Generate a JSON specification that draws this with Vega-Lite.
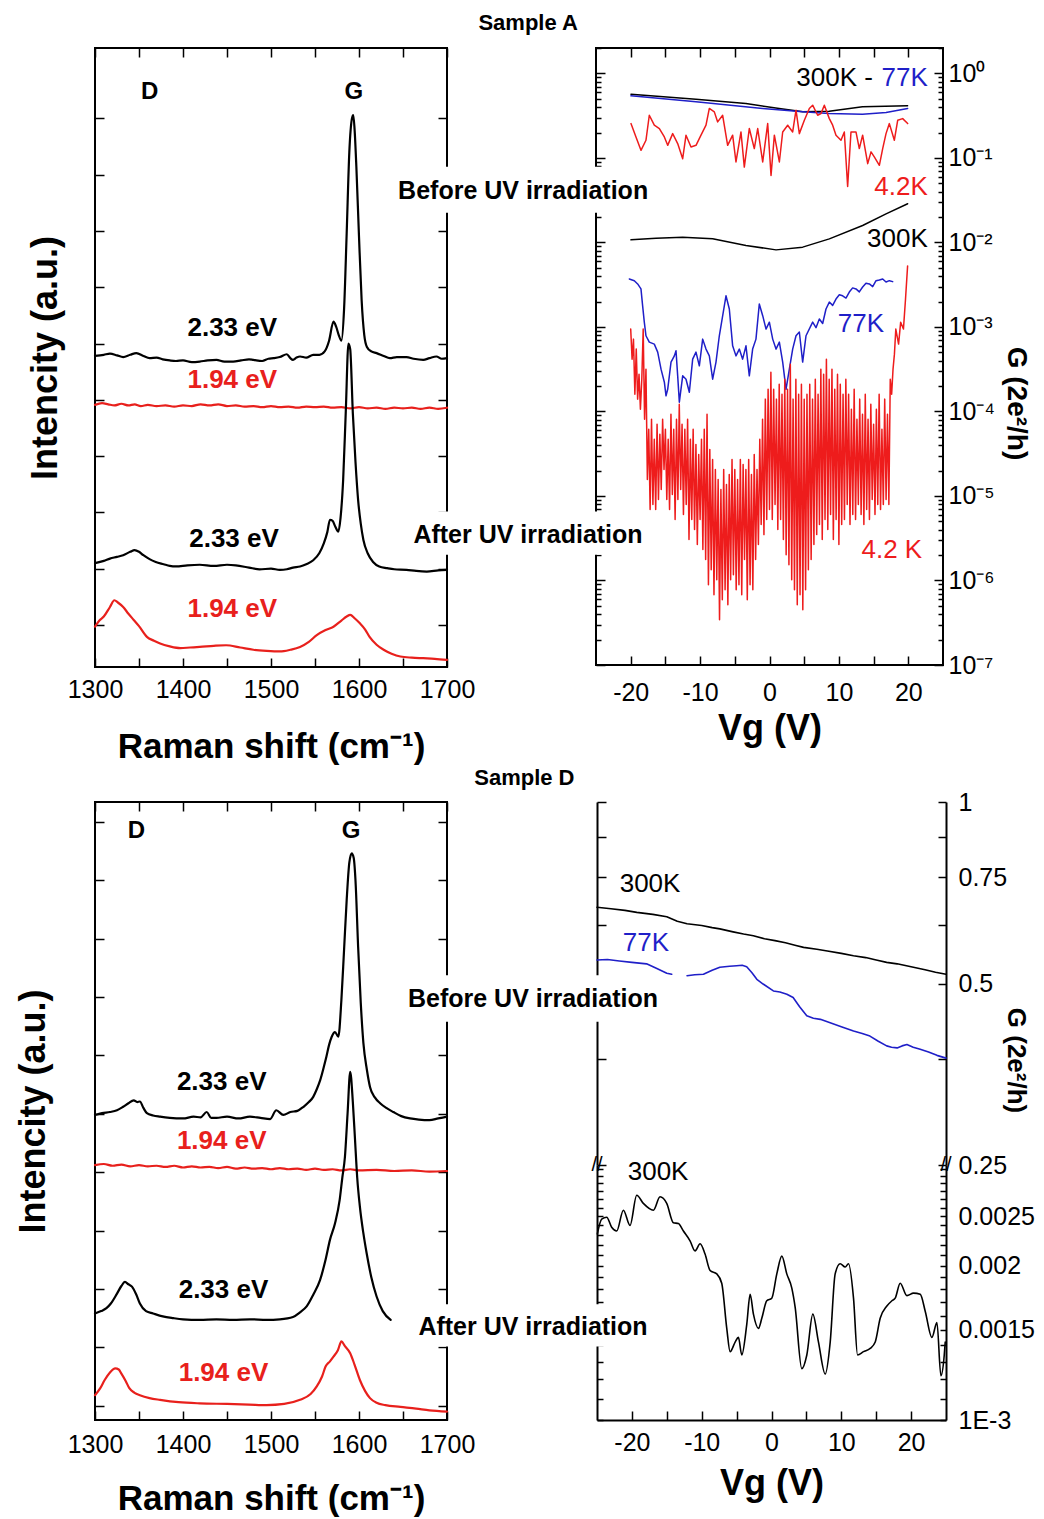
{
"$schema": "https://vega.github.io/schema/vega-lite/v6.json",
"autosize": {"type": "pad"},
"padding": {"left": 14, "top": 12, "right": 5, "bottom": 3},
"background": "white",
"spacing": 2,
"resolve": {"scale": {"color": "independent"}},
"config": {
  "font": "Liberation Sans",
  "view": {"stroke": "#000", "strokeWidth": 2},
  "axis": {"domain": false, "grid": false, "zindex": 0, "tickColor": "#000", "tickWidth": 1.5, "labelFont": "Liberation Sans", "labelFontSize": 25, "labelColor": "#000", "labelOverlap": false, "labelFlush": false, "titleFont": "Liberation Sans", "titleFontWeight": "bold", "titleColor": "#000", "domainColor": "#000", "domainWidth": 2},
  "line": {"strokeJoin": "round", "strokeCap": "round"}
},
"datasets": {
  "ramanA": [
    {"x":1300,"y":4.78,"E":"2.33 eV","s":"b"},{"x":1310,"y":4.8,"E":"2.33 eV","s":"b"},{"x":1317,"y":4.82,"E":"2.33 eV","s":"b"},{"x":1325,"y":4.79,"E":"2.33 eV","s":"b"},{"x":1332,"y":4.76,"E":"2.33 eV","s":"b"},{"x":1340,"y":4.8,"E":"2.33 eV","s":"b"},{"x":1347,"y":4.83,"E":"2.33 eV","s":"b"},{"x":1355,"y":4.78,"E":"2.33 eV","s":"b"},{"x":1362,"y":4.74,"E":"2.33 eV","s":"b"},{"x":1370,"y":4.75,"E":"2.33 eV","s":"b"},{"x":1377,"y":4.72,"E":"2.33 eV","s":"b"},{"x":1385,"y":4.7,"E":"2.33 eV","s":"b"},{"x":1392,"y":4.69,"E":"2.33 eV","s":"b"},{"x":1400,"y":4.7,"E":"2.33 eV","s":"b"},{"x":1410,"y":4.67,"E":"2.33 eV","s":"b"},{"x":1419,"y":4.68,"E":"2.33 eV","s":"b"},{"x":1428,"y":4.7,"E":"2.33 eV","s":"b"},{"x":1438,"y":4.71,"E":"2.33 eV","s":"b"},{"x":1447,"y":4.68,"E":"2.33 eV","s":"b"},{"x":1457,"y":4.68,"E":"2.33 eV","s":"b"},{"x":1466,"y":4.7,"E":"2.33 eV","s":"b"},{"x":1475,"y":4.72,"E":"2.33 eV","s":"b"},{"x":1480,"y":4.71,"E":"2.33 eV","s":"b"},{"x":1490,"y":4.69,"E":"2.33 eV","s":"b"},{"x":1497,"y":4.73,"E":"2.33 eV","s":"b"},{"x":1503,"y":4.74,"E":"2.33 eV","s":"b"},{"x":1510,"y":4.76,"E":"2.33 eV","s":"b"},{"x":1518,"y":4.81,"E":"2.33 eV","s":"b"},{"x":1522,"y":4.74,"E":"2.33 eV","s":"b"},{"x":1525,"y":4.71,"E":"2.33 eV","s":"b"},{"x":1529,"y":4.75,"E":"2.33 eV","s":"b"},{"x":1533,"y":4.77,"E":"2.33 eV","s":"b"},{"x":1540,"y":4.75,"E":"2.33 eV","s":"b"},{"x":1548,"y":4.8,"E":"2.33 eV","s":"b"},{"x":1555,"y":4.8,"E":"2.33 eV","s":"b"},{"x":1561,"y":4.86,"E":"2.33 eV","s":"b"},{"x":1566,"y":5.05,"E":"2.33 eV","s":"b"},{"x":1571,"y":5.39,"E":"2.33 eV","s":"b"},{"x":1574,"y":5.3,"E":"2.33 eV","s":"b"},{"x":1577,"y":5.15,"E":"2.33 eV","s":"b"},{"x":1580,"y":5.05,"E":"2.33 eV","s":"b"},{"x":1583,"y":5.6,"E":"2.33 eV","s":"b"},{"x":1586,"y":6.96,"E":"2.33 eV","s":"b"},{"x":1589,"y":8.4,"E":"2.33 eV","s":"b"},{"x":1592,"y":9.0,"E":"2.33 eV","s":"b"},{"x":1593.5,"y":9.06,"E":"2.33 eV","s":"b"},{"x":1595,"y":8.8,"E":"2.33 eV","s":"b"},{"x":1597,"y":8.14,"E":"2.33 eV","s":"b"},{"x":1600,"y":6.9,"E":"2.33 eV","s":"b"},{"x":1603,"y":5.77,"E":"2.33 eV","s":"b"},{"x":1606,"y":5.15,"E":"2.33 eV","s":"b"},{"x":1609,"y":4.94,"E":"2.33 eV","s":"b"},{"x":1614,"y":4.86,"E":"2.33 eV","s":"b"},{"x":1620,"y":4.83,"E":"2.33 eV","s":"b"},{"x":1628,"y":4.78,"E":"2.33 eV","s":"b"},{"x":1635,"y":4.74,"E":"2.33 eV","s":"b"},{"x":1643,"y":4.76,"E":"2.33 eV","s":"b"},{"x":1654,"y":4.76,"E":"2.33 eV","s":"b"},{"x":1662,"y":4.73,"E":"2.33 eV","s":"b"},{"x":1673,"y":4.71,"E":"2.33 eV","s":"b"},{"x":1680,"y":4.74,"E":"2.33 eV","s":"b"},{"x":1688,"y":4.77,"E":"2.33 eV","s":"b"},{"x":1694,"y":4.73,"E":"2.33 eV","s":"b"},{"x":1700,"y":4.74,"E":"2.33 eV","s":"b"},
    {"x":1300,"y":3.91,"E":"1.94 eV","s":"b"},{"x":1308,"y":3.94,"E":"1.94 eV","s":"b"},{"x":1315,"y":3.92,"E":"1.94 eV","s":"b"},{"x":1322,"y":3.9,"E":"1.94 eV","s":"b"},{"x":1330,"y":3.93,"E":"1.94 eV","s":"b"},{"x":1338,"y":3.9,"E":"1.94 eV","s":"b"},{"x":1345,"y":3.92,"E":"1.94 eV","s":"b"},{"x":1352,"y":3.89,"E":"1.94 eV","s":"b"},{"x":1360,"y":3.91,"E":"1.94 eV","s":"b"},{"x":1370,"y":3.89,"E":"1.94 eV","s":"b"},{"x":1380,"y":3.9,"E":"1.94 eV","s":"b"},{"x":1390,"y":3.88,"E":"1.94 eV","s":"b"},{"x":1400,"y":3.9,"E":"1.94 eV","s":"b"},{"x":1410,"y":3.89,"E":"1.94 eV","s":"b"},{"x":1420,"y":3.92,"E":"1.94 eV","s":"b"},{"x":1430,"y":3.9,"E":"1.94 eV","s":"b"},{"x":1440,"y":3.92,"E":"1.94 eV","s":"b"},{"x":1450,"y":3.89,"E":"1.94 eV","s":"b"},{"x":1460,"y":3.9,"E":"1.94 eV","s":"b"},{"x":1470,"y":3.88,"E":"1.94 eV","s":"b"},{"x":1480,"y":3.89,"E":"1.94 eV","s":"b"},{"x":1490,"y":3.87,"E":"1.94 eV","s":"b"},{"x":1500,"y":3.89,"E":"1.94 eV","s":"b"},{"x":1510,"y":3.87,"E":"1.94 eV","s":"b"},{"x":1520,"y":3.88,"E":"1.94 eV","s":"b"},{"x":1530,"y":3.86,"E":"1.94 eV","s":"b"},{"x":1540,"y":3.88,"E":"1.94 eV","s":"b"},{"x":1550,"y":3.87,"E":"1.94 eV","s":"b"},{"x":1560,"y":3.88,"E":"1.94 eV","s":"b"},{"x":1570,"y":3.86,"E":"1.94 eV","s":"b"},{"x":1580,"y":3.87,"E":"1.94 eV","s":"b"},{"x":1590,"y":3.85,"E":"1.94 eV","s":"b"},{"x":1600,"y":3.87,"E":"1.94 eV","s":"b"},{"x":1610,"y":3.85,"E":"1.94 eV","s":"b"},{"x":1620,"y":3.86,"E":"1.94 eV","s":"b"},{"x":1630,"y":3.84,"E":"1.94 eV","s":"b"},{"x":1640,"y":3.86,"E":"1.94 eV","s":"b"},{"x":1650,"y":3.85,"E":"1.94 eV","s":"b"},{"x":1660,"y":3.86,"E":"1.94 eV","s":"b"},{"x":1670,"y":3.84,"E":"1.94 eV","s":"b"},{"x":1680,"y":3.86,"E":"1.94 eV","s":"b"},{"x":1690,"y":3.84,"E":"1.94 eV","s":"b"},{"x":1700,"y":3.86,"E":"1.94 eV","s":"b"},
    {"x":1300,"y":1.1,"E":"2.33 eV","s":"a"},{"x":1310,"y":1.14,"E":"2.33 eV","s":"a"},{"x":1317,"y":1.18,"E":"2.33 eV","s":"a"},{"x":1325,"y":1.21,"E":"2.33 eV","s":"a"},{"x":1332,"y":1.24,"E":"2.33 eV","s":"a"},{"x":1340,"y":1.3,"E":"2.33 eV","s":"a"},{"x":1345,"y":1.33,"E":"2.33 eV","s":"a"},{"x":1350,"y":1.3,"E":"2.33 eV","s":"a"},{"x":1355,"y":1.24,"E":"2.33 eV","s":"a"},{"x":1362,"y":1.17,"E":"2.33 eV","s":"a"},{"x":1369,"y":1.12,"E":"2.33 eV","s":"a"},{"x":1378,"y":1.08,"E":"2.33 eV","s":"a"},{"x":1385,"y":1.05,"E":"2.33 eV","s":"a"},{"x":1392,"y":1.04,"E":"2.33 eV","s":"a"},{"x":1405,"y":1.06,"E":"2.33 eV","s":"a"},{"x":1419,"y":1.07,"E":"2.33 eV","s":"a"},{"x":1435,"y":1.05,"E":"2.33 eV","s":"a"},{"x":1450,"y":1.07,"E":"2.33 eV","s":"a"},{"x":1460,"y":1.06,"E":"2.33 eV","s":"a"},{"x":1475,"y":1.02,"E":"2.33 eV","s":"a"},{"x":1487,"y":0.99,"E":"2.33 eV","s":"a"},{"x":1500,"y":1.0,"E":"2.33 eV","s":"a"},{"x":1510,"y":0.98,"E":"2.33 eV","s":"a"},{"x":1518,"y":0.99,"E":"2.33 eV","s":"a"},{"x":1525,"y":1.02,"E":"2.33 eV","s":"a"},{"x":1533,"y":1.04,"E":"2.33 eV","s":"a"},{"x":1540,"y":1.08,"E":"2.33 eV","s":"a"},{"x":1548,"y":1.15,"E":"2.33 eV","s":"a"},{"x":1555,"y":1.28,"E":"2.33 eV","s":"a"},{"x":1560,"y":1.45,"E":"2.33 eV","s":"a"},{"x":1564,"y":1.65,"E":"2.33 eV","s":"a"},{"x":1567,"y":1.87,"E":"2.33 eV","s":"a"},{"x":1570,"y":1.85,"E":"2.33 eV","s":"a"},{"x":1573,"y":1.75,"E":"2.33 eV","s":"a"},{"x":1576.5,"y":1.66,"E":"2.33 eV","s":"a"},{"x":1579,"y":1.9,"E":"2.33 eV","s":"a"},{"x":1582,"y":2.58,"E":"2.33 eV","s":"a"},{"x":1585,"y":3.8,"E":"2.33 eV","s":"a"},{"x":1588,"y":5.0,"E":"2.33 eV","s":"a"},{"x":1590,"y":4.9,"E":"2.33 eV","s":"a"},{"x":1593,"y":3.76,"E":"2.33 eV","s":"a"},{"x":1596,"y":2.9,"E":"2.33 eV","s":"a"},{"x":1599,"y":2.22,"E":"2.33 eV","s":"a"},{"x":1602,"y":1.8,"E":"2.33 eV","s":"a"},{"x":1605,"y":1.51,"E":"2.33 eV","s":"a"},{"x":1610,"y":1.27,"E":"2.33 eV","s":"a"},{"x":1616,"y":1.12,"E":"2.33 eV","s":"a"},{"x":1623,"y":1.04,"E":"2.33 eV","s":"a"},{"x":1632,"y":1.01,"E":"2.33 eV","s":"a"},{"x":1640,"y":0.99,"E":"2.33 eV","s":"a"},{"x":1654,"y":0.98,"E":"2.33 eV","s":"a"},{"x":1665,"y":0.96,"E":"2.33 eV","s":"a"},{"x":1677,"y":0.95,"E":"2.33 eV","s":"a"},{"x":1690,"y":0.97,"E":"2.33 eV","s":"a"},{"x":1700,"y":0.98,"E":"2.33 eV","s":"a"},
    {"x":1300,"y":-0.03,"E":"1.94 eV","s":"a"},{"x":1305,"y":0.08,"E":"1.94 eV","s":"a"},{"x":1310,"y":0.15,"E":"1.94 eV","s":"a"},{"x":1317,"y":0.32,"E":"1.94 eV","s":"a"},{"x":1322,"y":0.44,"E":"1.94 eV","s":"a"},{"x":1326,"y":0.4,"E":"1.94 eV","s":"a"},{"x":1332,"y":0.32,"E":"1.94 eV","s":"a"},{"x":1338,"y":0.2,"E":"1.94 eV","s":"a"},{"x":1344,"y":0.09,"E":"1.94 eV","s":"a"},{"x":1350,"y":-0.02,"E":"1.94 eV","s":"a"},{"x":1359,"y":-0.21,"E":"1.94 eV","s":"a"},{"x":1367,"y":-0.28,"E":"1.94 eV","s":"a"},{"x":1374,"y":-0.33,"E":"1.94 eV","s":"a"},{"x":1385,"y":-0.38,"E":"1.94 eV","s":"a"},{"x":1397,"y":-0.41,"E":"1.94 eV","s":"a"},{"x":1408,"y":-0.4,"E":"1.94 eV","s":"a"},{"x":1419,"y":-0.39,"E":"1.94 eV","s":"a"},{"x":1435,"y":-0.37,"E":"1.94 eV","s":"a"},{"x":1449,"y":-0.36,"E":"1.94 eV","s":"a"},{"x":1465,"y":-0.4,"E":"1.94 eV","s":"a"},{"x":1480,"y":-0.44,"E":"1.94 eV","s":"a"},{"x":1495,"y":-0.46,"E":"1.94 eV","s":"a"},{"x":1510,"y":-0.47,"E":"1.94 eV","s":"a"},{"x":1522,"y":-0.44,"E":"1.94 eV","s":"a"},{"x":1533,"y":-0.39,"E":"1.94 eV","s":"a"},{"x":1543,"y":-0.3,"E":"1.94 eV","s":"a"},{"x":1552,"y":-0.18,"E":"1.94 eV","s":"a"},{"x":1562,"y":-0.09,"E":"1.94 eV","s":"a"},{"x":1571,"y":-0.03,"E":"1.94 eV","s":"a"},{"x":1580,"y":0.08,"E":"1.94 eV","s":"a"},{"x":1586,"y":0.15,"E":"1.94 eV","s":"a"},{"x":1590,"y":0.18,"E":"1.94 eV","s":"a"},{"x":1595,"y":0.12,"E":"1.94 eV","s":"a"},{"x":1601,"y":0.03,"E":"1.94 eV","s":"a"},{"x":1607,"y":-0.08,"E":"1.94 eV","s":"a"},{"x":1612,"y":-0.21,"E":"1.94 eV","s":"a"},{"x":1620,"y":-0.35,"E":"1.94 eV","s":"a"},{"x":1628,"y":-0.44,"E":"1.94 eV","s":"a"},{"x":1637,"y":-0.51,"E":"1.94 eV","s":"a"},{"x":1647,"y":-0.56,"E":"1.94 eV","s":"a"},{"x":1660,"y":-0.58,"E":"1.94 eV","s":"a"},{"x":1673,"y":-0.59,"E":"1.94 eV","s":"a"},{"x":1686,"y":-0.6,"E":"1.94 eV","s":"a"},{"x":1700,"y":-0.62,"E":"1.94 eV","s":"a"}
  ],
  "labA": [
    {"t":"2.33 eV","E":"2.33 eV","x":1456,"y":5.28},{"t":"1.94 eV","E":"1.94 eV","x":1456,"y":4.35},{"t":"2.33 eV","E":"2.33 eV","x":1458,"y":1.53},{"t":"1.94 eV","E":"1.94 eV","x":1456,"y":0.28}
  ],
  "pkA": [{"t":"D","x":1362,"y":9.47},{"t":"G","x":1594,"y":9.47}],
  "ramanD": [
    {"x":1300,"y":4.98,"E":"2.33 eV","s":"b"},{"x":1308,"y":5.01,"E":"2.33 eV","s":"b"},{"x":1317,"y":5.03,"E":"2.33 eV","s":"b"},{"x":1325,"y":5.06,"E":"2.33 eV","s":"b"},{"x":1332,"y":5.12,"E":"2.33 eV","s":"b"},{"x":1338,"y":5.18,"E":"2.33 eV","s":"b"},{"x":1344,"y":5.23,"E":"2.33 eV","s":"b"},{"x":1348,"y":5.2,"E":"2.33 eV","s":"b"},{"x":1351,"y":5.21,"E":"2.33 eV","s":"b"},{"x":1355,"y":5.1,"E":"2.33 eV","s":"b"},{"x":1359,"y":5.01,"E":"2.33 eV","s":"b"},{"x":1366,"y":4.97,"E":"2.33 eV","s":"b"},{"x":1374,"y":4.95,"E":"2.33 eV","s":"b"},{"x":1385,"y":4.93,"E":"2.33 eV","s":"b"},{"x":1400,"y":4.92,"E":"2.33 eV","s":"b"},{"x":1412,"y":4.95,"E":"2.33 eV","s":"b"},{"x":1420,"y":4.94,"E":"2.33 eV","s":"b"},{"x":1427,"y":5.03,"E":"2.33 eV","s":"b"},{"x":1432,"y":4.93,"E":"2.33 eV","s":"b"},{"x":1438,"y":4.93,"E":"2.33 eV","s":"b"},{"x":1450,"y":4.95,"E":"2.33 eV","s":"b"},{"x":1463,"y":4.92,"E":"2.33 eV","s":"b"},{"x":1476,"y":4.95,"E":"2.33 eV","s":"b"},{"x":1488,"y":4.93,"E":"2.33 eV","s":"b"},{"x":1499,"y":4.91,"E":"2.33 eV","s":"b"},{"x":1506,"y":5.06,"E":"2.33 eV","s":"b"},{"x":1514,"y":4.98,"E":"2.33 eV","s":"b"},{"x":1522,"y":5.03,"E":"2.33 eV","s":"b"},{"x":1530,"y":5.05,"E":"2.33 eV","s":"b"},{"x":1537,"y":5.12,"E":"2.33 eV","s":"b"},{"x":1543,"y":5.2,"E":"2.33 eV","s":"b"},{"x":1548,"y":5.29,"E":"2.33 eV","s":"b"},{"x":1552,"y":5.42,"E":"2.33 eV","s":"b"},{"x":1556,"y":5.58,"E":"2.33 eV","s":"b"},{"x":1560,"y":5.8,"E":"2.33 eV","s":"b"},{"x":1563,"y":5.98,"E":"2.33 eV","s":"b"},{"x":1566,"y":6.18,"E":"2.33 eV","s":"b"},{"x":1569,"y":6.32,"E":"2.33 eV","s":"b"},{"x":1572.7,"y":6.4,"E":"2.33 eV","s":"b"},{"x":1576.5,"y":6.32,"E":"2.33 eV","s":"b"},{"x":1580,"y":6.95,"E":"2.33 eV","s":"b"},{"x":1583,"y":7.8,"E":"2.33 eV","s":"b"},{"x":1586,"y":8.66,"E":"2.33 eV","s":"b"},{"x":1589,"y":9.3,"E":"2.33 eV","s":"b"},{"x":1591.7,"y":9.46,"E":"2.33 eV","s":"b"},{"x":1594,"y":9.38,"E":"2.33 eV","s":"b"},{"x":1596,"y":9.0,"E":"2.33 eV","s":"b"},{"x":1599,"y":7.86,"E":"2.33 eV","s":"b"},{"x":1602,"y":6.9,"E":"2.33 eV","s":"b"},{"x":1605,"y":6.21,"E":"2.33 eV","s":"b"},{"x":1609,"y":5.75,"E":"2.33 eV","s":"b"},{"x":1612.5,"y":5.46,"E":"2.33 eV","s":"b"},{"x":1618,"y":5.28,"E":"2.33 eV","s":"b"},{"x":1624,"y":5.18,"E":"2.33 eV","s":"b"},{"x":1631,"y":5.1,"E":"2.33 eV","s":"b"},{"x":1639,"y":5.03,"E":"2.33 eV","s":"b"},{"x":1648,"y":4.96,"E":"2.33 eV","s":"b"},{"x":1658,"y":4.92,"E":"2.33 eV","s":"b"},{"x":1668,"y":4.9,"E":"2.33 eV","s":"b"},{"x":1680,"y":4.89,"E":"2.33 eV","s":"b"},{"x":1690,"y":4.92,"E":"2.33 eV","s":"b"},{"x":1700,"y":4.95,"E":"2.33 eV","s":"b"},
    {"x":1300,"y":4.12,"E":"1.94 eV","s":"b"},{"x":1310,"y":4.14,"E":"1.94 eV","s":"b"},{"x":1320,"y":4.11,"E":"1.94 eV","s":"b"},{"x":1330,"y":4.13,"E":"1.94 eV","s":"b"},{"x":1340,"y":4.1,"E":"1.94 eV","s":"b"},{"x":1350,"y":4.12,"E":"1.94 eV","s":"b"},{"x":1360,"y":4.1,"E":"1.94 eV","s":"b"},{"x":1370,"y":4.11,"E":"1.94 eV","s":"b"},{"x":1380,"y":4.09,"E":"1.94 eV","s":"b"},{"x":1390,"y":4.11,"E":"1.94 eV","s":"b"},{"x":1400,"y":4.08,"E":"1.94 eV","s":"b"},{"x":1410,"y":4.1,"E":"1.94 eV","s":"b"},{"x":1420,"y":4.08,"E":"1.94 eV","s":"b"},{"x":1430,"y":4.09,"E":"1.94 eV","s":"b"},{"x":1440,"y":4.07,"E":"1.94 eV","s":"b"},{"x":1450,"y":4.09,"E":"1.94 eV","s":"b"},{"x":1460,"y":4.06,"E":"1.94 eV","s":"b"},{"x":1470,"y":4.08,"E":"1.94 eV","s":"b"},{"x":1480,"y":4.06,"E":"1.94 eV","s":"b"},{"x":1490,"y":4.07,"E":"1.94 eV","s":"b"},{"x":1500,"y":4.05,"E":"1.94 eV","s":"b"},{"x":1510,"y":4.07,"E":"1.94 eV","s":"b"},{"x":1520,"y":4.05,"E":"1.94 eV","s":"b"},{"x":1530,"y":4.06,"E":"1.94 eV","s":"b"},{"x":1540,"y":4.04,"E":"1.94 eV","s":"b"},{"x":1550,"y":4.06,"E":"1.94 eV","s":"b"},{"x":1560,"y":4.04,"E":"1.94 eV","s":"b"},{"x":1570,"y":4.05,"E":"1.94 eV","s":"b"},{"x":1580,"y":4.03,"E":"1.94 eV","s":"b"},{"x":1590,"y":4.05,"E":"1.94 eV","s":"b"},{"x":1600,"y":4.03,"E":"1.94 eV","s":"b"},{"x":1620,"y":4.04,"E":"1.94 eV","s":"b"},{"x":1640,"y":4.02,"E":"1.94 eV","s":"b"},{"x":1660,"y":4.03,"E":"1.94 eV","s":"b"},{"x":1680,"y":4.01,"E":"1.94 eV","s":"b"},{"x":1700,"y":4.02,"E":"1.94 eV","s":"b"},
    {"x":1300,"y":1.58,"E":"2.33 eV","s":"a"},{"x":1307,"y":1.62,"E":"2.33 eV","s":"a"},{"x":1313,"y":1.67,"E":"2.33 eV","s":"a"},{"x":1318,"y":1.75,"E":"2.33 eV","s":"a"},{"x":1325,"y":1.92,"E":"2.33 eV","s":"a"},{"x":1330,"y":2.05,"E":"2.33 eV","s":"a"},{"x":1334,"y":2.12,"E":"2.33 eV","s":"a"},{"x":1338,"y":2.08,"E":"2.33 eV","s":"a"},{"x":1342,"y":2.04,"E":"2.33 eV","s":"a"},{"x":1347,"y":1.9,"E":"2.33 eV","s":"a"},{"x":1351,"y":1.75,"E":"2.33 eV","s":"a"},{"x":1358,"y":1.62,"E":"2.33 eV","s":"a"},{"x":1366,"y":1.58,"E":"2.33 eV","s":"a"},{"x":1377,"y":1.53,"E":"2.33 eV","s":"a"},{"x":1389,"y":1.5,"E":"2.33 eV","s":"a"},{"x":1400,"y":1.48,"E":"2.33 eV","s":"a"},{"x":1419,"y":1.47,"E":"2.33 eV","s":"a"},{"x":1438,"y":1.48,"E":"2.33 eV","s":"a"},{"x":1457,"y":1.47,"E":"2.33 eV","s":"a"},{"x":1476,"y":1.48,"E":"2.33 eV","s":"a"},{"x":1495,"y":1.47,"E":"2.33 eV","s":"a"},{"x":1510,"y":1.48,"E":"2.33 eV","s":"a"},{"x":1525,"y":1.52,"E":"2.33 eV","s":"a"},{"x":1533,"y":1.6,"E":"2.33 eV","s":"a"},{"x":1540.5,"y":1.7,"E":"2.33 eV","s":"a"},{"x":1548,"y":1.9,"E":"2.33 eV","s":"a"},{"x":1555.7,"y":2.15,"E":"2.33 eV","s":"a"},{"x":1562,"y":2.5,"E":"2.33 eV","s":"a"},{"x":1567,"y":2.84,"E":"2.33 eV","s":"a"},{"x":1572.7,"y":3.12,"E":"2.33 eV","s":"a"},{"x":1578,"y":3.52,"E":"2.33 eV","s":"a"},{"x":1581,"y":3.9,"E":"2.33 eV","s":"a"},{"x":1584,"y":4.26,"E":"2.33 eV","s":"a"},{"x":1587,"y":5.0,"E":"2.33 eV","s":"a"},{"x":1590,"y":5.72,"E":"2.33 eV","s":"a"},{"x":1593,"y":5.2,"E":"2.33 eV","s":"a"},{"x":1595.5,"y":4.55,"E":"2.33 eV","s":"a"},{"x":1598,"y":3.9,"E":"2.33 eV","s":"a"},{"x":1601,"y":3.41,"E":"2.33 eV","s":"a"},{"x":1605,"y":2.95,"E":"2.33 eV","s":"a"},{"x":1608.7,"y":2.61,"E":"2.33 eV","s":"a"},{"x":1614,"y":2.2,"E":"2.33 eV","s":"a"},{"x":1620,"y":1.87,"E":"2.33 eV","s":"a"},{"x":1627,"y":1.62,"E":"2.33 eV","s":"a"},{"x":1636,"y":1.47,"E":"2.33 eV","s":"a"},
    {"x":1300,"y":0.18,"E":"1.94 eV","s":"a"},{"x":1306,"y":0.3,"E":"1.94 eV","s":"a"},{"x":1311,"y":0.44,"E":"1.94 eV","s":"a"},{"x":1317,"y":0.57,"E":"1.94 eV","s":"a"},{"x":1323,"y":0.64,"E":"1.94 eV","s":"a"},{"x":1327,"y":0.62,"E":"1.94 eV","s":"a"},{"x":1330,"y":0.55,"E":"1.94 eV","s":"a"},{"x":1335,"y":0.42,"E":"1.94 eV","s":"a"},{"x":1339,"y":0.3,"E":"1.94 eV","s":"a"},{"x":1345,"y":0.22,"E":"1.94 eV","s":"a"},{"x":1351,"y":0.18,"E":"1.94 eV","s":"a"},{"x":1362,"y":0.13,"E":"1.94 eV","s":"a"},{"x":1374,"y":0.1,"E":"1.94 eV","s":"a"},{"x":1395,"y":0.06,"E":"1.94 eV","s":"a"},{"x":1419,"y":0.04,"E":"1.94 eV","s":"a"},{"x":1450,"y":0.03,"E":"1.94 eV","s":"a"},{"x":1475,"y":0.02,"E":"1.94 eV","s":"a"},{"x":1495,"y":0.01,"E":"1.94 eV","s":"a"},{"x":1515,"y":0.03,"E":"1.94 eV","s":"a"},{"x":1533,"y":0.1,"E":"1.94 eV","s":"a"},{"x":1545,"y":0.2,"E":"1.94 eV","s":"a"},{"x":1552,"y":0.33,"E":"1.94 eV","s":"a"},{"x":1558,"y":0.5,"E":"1.94 eV","s":"a"},{"x":1562,"y":0.67,"E":"1.94 eV","s":"a"},{"x":1567,"y":0.76,"E":"1.94 eV","s":"a"},{"x":1571,"y":0.84,"E":"1.94 eV","s":"a"},{"x":1576,"y":0.95,"E":"1.94 eV","s":"a"},{"x":1580,"y":1.1,"E":"1.94 eV","s":"a"},{"x":1584,"y":1.02,"E":"1.94 eV","s":"a"},{"x":1590,"y":0.9,"E":"1.94 eV","s":"a"},{"x":1595,"y":0.7,"E":"1.94 eV","s":"a"},{"x":1601,"y":0.44,"E":"1.94 eV","s":"a"},{"x":1607,"y":0.25,"E":"1.94 eV","s":"a"},{"x":1612.5,"y":0.13,"E":"1.94 eV","s":"a"},{"x":1620,"y":0.05,"E":"1.94 eV","s":"a"},{"x":1630,"y":0.01,"E":"1.94 eV","s":"a"},{"x":1647,"y":-0.02,"E":"1.94 eV","s":"a"},{"x":1665,"y":-0.05,"E":"1.94 eV","s":"a"},{"x":1680,"y":-0.08,"E":"1.94 eV","s":"a"},{"x":1700,"y":-0.1,"E":"1.94 eV","s":"a"}
  ],
  "labD": [
    {"t":"2.33 eV","E":"2.33 eV","x":1444,"y":5.54},{"t":"1.94 eV","E":"1.94 eV","x":1444,"y":4.53},{"t":"2.33 eV","E":"2.33 eV","x":1446,"y":1.98},{"t":"1.94 eV","E":"1.94 eV","x":1446,"y":0.56}
  ],
  "pkD": [{"t":"D","x":1347,"y":9.84},{"t":"G","x":1591,"y":9.84}],
  "gA": [
    {"V":-19.96,"G":0.568,"T":"300K","s":"b"},{"V":-10.6,"G":0.495,"T":"300K","s":"b"},{"V":-3.4,"G":0.44,"T":"300K","s":"b"},{"V":1.4,"G":0.385,"T":"300K","s":"b"},{"V":4.8,"G":0.351,"T":"300K","s":"b"},{"V":8.6,"G":0.357,"T":"300K","s":"b"},{"V":13.4,"G":0.403,"T":"300K","s":"b"},{"V":19.9,"G":0.414,"T":"300K","s":"b"},
    {"V":-19.96,"G":0.543,"T":"77K","s":"b"},{"V":-10.6,"G":0.461,"T":"77K","s":"b"},{"V":-1.0,"G":0.385,"T":"77K","s":"b"},{"V":4.8,"G":0.351,"T":"77K","s":"b"},{"V":8.6,"G":0.335,"T":"77K","s":"b"},{"V":13.4,"G":0.329,"T":"77K","s":"b"},{"V":16.8,"G":0.344,"T":"77K","s":"b"},{"V":19.9,"G":0.385,"T":"77K","s":"b"},
    {"V":-19.96,"G":0.255,"T":"4.2K","s":"b"},{"V":-19.24,"G":0.177,"T":"4.2K","s":"b"},{"V":-18.52,"G":0.123,"T":"4.2K","s":"b"},{"V":-17.8,"G":0.162,"T":"4.2K","s":"b"},{"V":-17.32,"G":0.32,"T":"4.2K","s":"b"},{"V":-16.6,"G":0.244,"T":"4.2K","s":"b"},{"V":-15.87,"G":0.223,"T":"4.2K","s":"b"},{"V":-15.15,"G":0.177,"T":"4.2K","s":"b"},{"V":-14.67,"G":0.141,"T":"4.2K","s":"b"},{"V":-13.95,"G":0.194,"T":"4.2K","s":"b"},{"V":-13.23,"G":0.148,"T":"4.2K","s":"b"},{"V":-12.51,"G":0.098,"T":"4.2K","s":"b"},{"V":-12.03,"G":0.186,"T":"4.2K","s":"b"},{"V":-11.31,"G":0.135,"T":"4.2K","s":"b"},{"V":-10.59,"G":0.141,"T":"4.2K","s":"b"},{"V":-9.87,"G":0.186,"T":"4.2K","s":"b"},{"V":-9.15,"G":0.244,"T":"4.2K","s":"b"},{"V":-8.67,"G":0.385,"T":"4.2K","s":"b"},{"V":-7.95,"G":0.351,"T":"4.2K","s":"b"},{"V":-7.47,"G":0.267,"T":"4.2K","s":"b"},{"V":-6.75,"G":0.32,"T":"4.2K","s":"b"},{"V":-6.03,"G":0.141,"T":"4.2K","s":"b"},{"V":-5.31,"G":0.186,"T":"4.2K","s":"b"},{"V":-4.83,"G":0.0896,"T":"4.2K","s":"b"},{"V":-4.11,"G":0.203,"T":"4.2K","s":"b"},{"V":-3.63,"G":0.078,"T":"4.2K","s":"b"},{"V":-2.91,"G":0.223,"T":"4.2K","s":"b"},{"V":-2.19,"G":0.129,"T":"4.2K","s":"b"},{"V":-1.7,"G":0.223,"T":"4.2K","s":"b"},{"V":-0.98,"G":0.0896,"T":"4.2K","s":"b"},{"V":-0.26,"G":0.255,"T":"4.2K","s":"b"},{"V":0.22,"G":0.062,"T":"4.2K","s":"b"},{"V":0.7,"G":0.186,"T":"4.2K","s":"b"},{"V":1.42,"G":0.0896,"T":"4.2K","s":"b"},{"V":1.9,"G":0.203,"T":"4.2K","s":"b"},{"V":2.62,"G":0.244,"T":"4.2K","s":"b"},{"V":3.34,"G":0.203,"T":"4.2K","s":"b"},{"V":3.82,"G":0.367,"T":"4.2K","s":"b"},{"V":4.3,"G":0.194,"T":"4.2K","s":"b"},{"V":5.02,"G":0.279,"T":"4.2K","s":"b"},{"V":5.74,"G":0.385,"T":"4.2K","s":"b"},{"V":6.22,"G":0.421,"T":"4.2K","s":"b"},{"V":6.94,"G":0.32,"T":"4.2K","s":"b"},{"V":7.42,"G":0.335,"T":"4.2K","s":"b"},{"V":7.9,"G":0.421,"T":"4.2K","s":"b"},{"V":8.62,"G":0.292,"T":"4.2K","s":"b"},{"V":9.1,"G":0.244,"T":"4.2K","s":"b"},{"V":9.58,"G":0.186,"T":"4.2K","s":"b"},{"V":10.3,"G":0.162,"T":"4.2K","s":"b"},{"V":10.78,"G":0.203,"T":"4.2K","s":"b"},{"V":11.26,"G":0.046,"T":"4.2K","s":"b"},{"V":11.74,"G":0.203,"T":"4.2K","s":"b"},{"V":12.46,"G":0.203,"T":"4.2K","s":"b"},{"V":12.94,"G":0.129,"T":"4.2K","s":"b"},{"V":13.42,"G":0.186,"T":"4.2K","s":"b"},{"V":14.15,"G":0.0856,"T":"4.2K","s":"b"},{"V":14.63,"G":0.118,"T":"4.2K","s":"b"},{"V":15.1,"G":0.103,"T":"4.2K","s":"b"},{"V":15.83,"G":0.0818,"T":"4.2K","s":"b"},{"V":16.31,"G":0.129,"T":"4.2K","s":"b"},{"V":16.79,"G":0.194,"T":"4.2K","s":"b"},{"V":17.27,"G":0.255,"T":"4.2K","s":"b"},{"V":17.99,"G":0.162,"T":"4.2K","s":"b"},{"V":18.47,"G":0.279,"T":"4.2K","s":"b"},{"V":19.19,"G":0.292,"T":"4.2K","s":"b"},{"V":19.91,"G":0.255,"T":"4.2K","s":"b"},
    {"V":-19.96,"G":0.01074,"T":"300K","s":"a"},{"V":-16.35,"G":0.01125,"T":"300K","s":"a"},{"V":-12.51,"G":0.01154,"T":"300K","s":"a"},{"V":-8.19,"G":0.01103,"T":"300K","s":"a"},{"V":-3.39,"G":0.0092,"T":"300K","s":"a"},{"V":0.94,"G":0.00817,"T":"300K","s":"a"},{"V":4.78,"G":0.0088,"T":"300K","s":"a"},{"V":8.62,"G":0.01103,"T":"300K","s":"a"},{"V":13.42,"G":0.01588,"T":"300K","s":"a"},{"V":16.79,"G":0.0218,"T":"300K","s":"a"},{"V":19.91,"G":0.0287,"T":"300K","s":"a"},
    {"V":-20.2,"G":0.0037,"T":"77K","s":"a"},{"V":-19.48,"G":0.00353,"T":"77K","s":"a"},{"V":-19.0,"G":0.00323,"T":"77K","s":"a"},{"V":-18.52,"G":0.00282,"T":"77K","s":"a"},{"V":-18.28,"G":0.00178,"T":"77K","s":"a"},{"V":-18.04,"G":0.00114,"T":"77K","s":"a"},{"V":-17.8,"G":0.000787,"T":"77K","s":"a"},{"V":-17.32,"G":0.000662,"T":"77K","s":"a"},{"V":-16.6,"G":0.000627,"T":"77K","s":"a"},{"V":-16.11,"G":0.000504,"T":"77K","s":"a"},{"V":-15.63,"G":0.000317,"T":"77K","s":"a"},{"V":-15.15,"G":0.000222,"T":"77K","s":"a"},{"V":-14.91,"G":0.000153,"T":"77K","s":"a"},{"V":-14.67,"G":0.000183,"T":"77K","s":"a"},{"V":-14.19,"G":0.000384,"T":"77K","s":"a"},{"V":-13.71,"G":0.000455,"T":"77K","s":"a"},{"V":-13.47,"G":0.000522,"T":"77K","s":"a"},{"V":-13.23,"G":0.000264,"T":"77K","s":"a"},{"V":-12.99,"G":0.000129,"T":"77K","s":"a"},{"V":-12.51,"G":0.000264,"T":"77K","s":"a"},{"V":-12.03,"G":0.000241,"T":"77K","s":"a"},{"V":-11.55,"G":0.000169,"T":"77K","s":"a"},{"V":-11.07,"G":0.000416,"T":"77K","s":"a"},{"V":-10.59,"G":0.000504,"T":"77K","s":"a"},{"V":-10.11,"G":0.000347,"T":"77K","s":"a"},{"V":-9.63,"G":0.000718,"T":"77K","s":"a"},{"V":-9.15,"G":0.000547,"T":"77K","s":"a"},{"V":-8.67,"G":0.000455,"T":"77K","s":"a"},{"V":-8.19,"G":0.000241,"T":"77K","s":"a"},{"V":-7.71,"G":0.000384,"T":"77K","s":"a"},{"V":-7.23,"G":0.000787,"T":"77K","s":"a"},{"V":-6.27,"G":0.00234,"T":"77K","s":"a"},{"V":-5.79,"G":0.00163,"T":"77K","s":"a"},{"V":-5.31,"G":0.000598,"T":"77K","s":"a"},{"V":-4.83,"G":0.000455,"T":"77K","s":"a"},{"V":-4.35,"G":0.000547,"T":"77K","s":"a"},{"V":-3.87,"G":0.000416,"T":"77K","s":"a"},{"V":-3.39,"G":0.000598,"T":"77K","s":"a"},{"V":-2.91,"G":0.000264,"T":"77K","s":"a"},{"V":-2.43,"G":0.000547,"T":"77K","s":"a"},{"V":-1.95,"G":0.000718,"T":"77K","s":"a"},{"V":-1.47,"G":0.00187,"T":"77K","s":"a"},{"V":-0.98,"G":0.00136,"T":"77K","s":"a"},{"V":-0.5,"G":0.000944,"T":"77K","s":"a"},{"V":-0.02,"G":0.00114,"T":"77K","s":"a"},{"V":0.46,"G":0.000718,"T":"77K","s":"a"},{"V":0.94,"G":0.000547,"T":"77K","s":"a"},{"V":1.42,"G":0.000662,"T":"77K","s":"a"},{"V":1.9,"G":0.000384,"T":"77K","s":"a"},{"V":2.38,"G":0.000183,"T":"77K","s":"a"},{"V":2.86,"G":0.000317,"T":"77K","s":"a"},{"V":3.34,"G":0.000547,"T":"77K","s":"a"},{"V":3.82,"G":0.000787,"T":"77K","s":"a"},{"V":4.3,"G":0.000871,"T":"77K","s":"a"},{"V":4.78,"G":0.000384,"T":"77K","s":"a"},{"V":5.26,"G":0.000787,"T":"77K","s":"a"},{"V":6.22,"G":0.00114,"T":"77K","s":"a"},{"V":6.7,"G":0.00098,"T":"77K","s":"a"},{"V":7.18,"G":0.00124,"T":"77K","s":"a"},{"V":7.66,"G":0.0011,"T":"77K","s":"a"},{"V":8.14,"G":0.00163,"T":"77K","s":"a"},{"V":8.62,"G":0.00197,"T":"77K","s":"a"},{"V":9.1,"G":0.0018,"T":"77K","s":"a"},{"V":9.58,"G":0.00214,"T":"77K","s":"a"},{"V":10.06,"G":0.0024,"T":"77K","s":"a"},{"V":10.54,"G":0.00234,"T":"77K","s":"a"},{"V":11.02,"G":0.0022,"T":"77K","s":"a"},{"V":11.5,"G":0.00259,"T":"77K","s":"a"},{"V":11.98,"G":0.0029,"T":"77K","s":"a"},{"V":12.46,"G":0.00282,"T":"77K","s":"a"},{"V":12.94,"G":0.0026,"T":"77K","s":"a"},{"V":13.42,"G":0.00297,"T":"77K","s":"a"},{"V":13.9,"G":0.0033,"T":"77K","s":"a"},{"V":14.39,"G":0.00323,"T":"77K","s":"a"},{"V":14.87,"G":0.003,"T":"77K","s":"a"},{"V":15.35,"G":0.00353,"T":"77K","s":"a"},{"V":15.83,"G":0.0036,"T":"77K","s":"a"},{"V":16.31,"G":0.0037,"T":"77K","s":"a"},{"V":16.79,"G":0.0034,"T":"77K","s":"a"},{"V":17.27,"G":0.00353,"T":"77K","s":"a"},{"V":17.75,"G":0.00344,"T":"77K","s":"a"},
    {"V":-20.0,"G":9.44e-4,"T":"4.2K","s":"a"},{"V":-19.8,"G":4.16e-4,"T":"4.2K","s":"a"},{"V":-19.6,"G":7.18e-4,"T":"4.2K","s":"a"},{"V":-19.4,"G":1.6e-4,"T":"4.2K","s":"a"},{"V":-19.2,"G":5.47e-4,"T":"4.2K","s":"a"},{"V":-19.0,"G":1.4e-4,"T":"4.2K","s":"a"},{"V":-18.8,"G":2.76e-4,"T":"4.2K","s":"a"},{"V":-18.6,"G":1.06e-4,"T":"4.2K","s":"a"},{"V":-18.4,"G":2.41e-4,"T":"4.2K","s":"a"},{"V":-18.2,"G":9.44e-4,"T":"4.2K","s":"a"},{"V":-18.0,"G":8.08e-5,"T":"4.2K","s":"a"},{"V":-17.8,"G":3.17e-4,"T":"4.2K","s":"a"},{"V":-17.6,"G":1.57e-5,"T":"4.2K","s":"a"},{"V":-17.4,"G":6.15e-5,"T":"4.2K","s":"a"},{"V":-17.2,"G":6.92e-6,"T":"4.2K","s":"a"},{"V":-17.0,"G":8.08e-5,"T":"4.2K","s":"a"},{"V":-16.8,"G":7.93e-6,"T":"4.2K","s":"a"},{"V":-16.6,"G":4.68e-5,"T":"4.2K","s":"a"},{"V":-16.4,"G":6.92e-6,"T":"4.2K","s":"a"},{"V":-16.2,"G":7.05e-5,"T":"4.2K","s":"a"},{"V":-16.0,"G":9.09e-6,"T":"4.2K","s":"a"},{"V":-15.8,"G":5.37e-5,"T":"4.2K","s":"a"},{"V":-15.6,"G":1.19e-5,"T":"4.2K","s":"a"},{"V":-15.4,"G":8.08e-5,"T":"4.2K","s":"a"},{"V":-15.2,"G":2.06e-5,"T":"4.2K","s":"a"},{"V":-15.0,"G":6.15e-5,"T":"4.2K","s":"a"},{"V":-14.8,"G":9.09e-6,"T":"4.2K","s":"a"},{"V":-14.6,"G":4.68e-5,"T":"4.2K","s":"a"},{"V":-14.4,"G":6.92e-6,"T":"4.2K","s":"a"},{"V":-14.2,"G":9.27e-5,"T":"4.2K","s":"a"},{"V":-14.0,"G":1.04e-5,"T":"4.2K","s":"a"},{"V":-13.8,"G":6.15e-5,"T":"4.2K","s":"a"},{"V":-13.6,"G":5.26e-6,"T":"4.2K","s":"a"},{"V":-13.4,"G":8.08e-5,"T":"4.2K","s":"a"},{"V":-13.2,"G":9.09e-6,"T":"4.2K","s":"a"},{"V":-13.0,"G":1.22e-4,"T":"4.2K","s":"a"},{"V":-12.8,"G":1.19e-5,"T":"4.2K","s":"a"},{"V":-12.6,"G":7.05e-5,"T":"4.2K","s":"a"},{"V":-12.4,"G":6.03e-6,"T":"4.2K","s":"a"},{"V":-12.2,"G":6.15e-5,"T":"4.2K","s":"a"},{"V":-12.0,"G":7.93e-6,"T":"4.2K","s":"a"},{"V":-11.8,"G":8.08e-5,"T":"4.2K","s":"a"},{"V":-11.6,"G":3.05e-6,"T":"4.2K","s":"a"},{"V":-11.4,"G":4.68e-5,"T":"4.2K","s":"a"},{"V":-11.2,"G":5.26e-6,"T":"4.2K","s":"a"},{"V":-11.0,"G":6.15e-5,"T":"4.2K","s":"a"},{"V":-10.8,"G":4.01e-6,"T":"4.2K","s":"a"},{"V":-10.6,"G":4.08e-5,"T":"4.2K","s":"a"},{"V":-10.4,"G":2.66e-6,"T":"4.2K","s":"a"},{"V":-10.2,"G":3.1e-5,"T":"4.2K","s":"a"},{"V":-10.0,"G":5.26e-6,"T":"4.2K","s":"a"},{"V":-9.8,"G":4.68e-5,"T":"4.2K","s":"a"},{"V":-9.6,"G":2.32e-6,"T":"4.2K","s":"a"},{"V":-9.4,"G":6.15e-5,"T":"4.2K","s":"a"},{"V":-9.2,"G":1.77e-6,"T":"4.2K","s":"a"},{"V":-9.0,"G":9.27e-5,"T":"4.2K","s":"a"},{"V":-8.8,"G":8.91e-7,"T":"4.2K","s":"a"},{"V":-8.6,"G":3.56e-5,"T":"4.2K","s":"a"},{"V":-8.4,"G":1.34e-6,"T":"4.2K","s":"a"},{"V":-8.2,"G":2.71e-5,"T":"4.2K","s":"a"},{"V":-8.0,"G":6.79e-7,"T":"4.2K","s":"a"},{"V":-7.8,"G":2.06e-5,"T":"4.2K","s":"a"},{"V":-7.6,"G":1.02e-6,"T":"4.2K","s":"a"},{"V":-7.4,"G":1.57e-5,"T":"4.2K","s":"a"},{"V":-7.2,"G":3.43e-7,"T":"4.2K","s":"a"},{"V":-7.0,"G":1.19e-5,"T":"4.2K","s":"a"},{"V":-6.8,"G":5.92e-7,"T":"4.2K","s":"a"},{"V":-6.6,"G":2.06e-5,"T":"4.2K","s":"a"},{"V":-6.4,"G":7.78e-7,"T":"4.2K","s":"a"},{"V":-6.2,"G":1.37e-5,"T":"4.2K","s":"a"},{"V":-6.0,"G":5.16e-7,"T":"4.2K","s":"a"},{"V":-5.8,"G":1.8e-5,"T":"4.2K","s":"a"},{"V":-5.6,"G":1.02e-6,"T":"4.2K","s":"a"},{"V":-5.4,"G":2.71e-5,"T":"4.2K","s":"a"},{"V":-5.2,"G":1.17e-6,"T":"4.2K","s":"a"},{"V":-5.0,"G":2.06e-5,"T":"4.2K","s":"a"},{"V":-4.8,"G":7.78e-7,"T":"4.2K","s":"a"},{"V":-4.6,"G":1.57e-5,"T":"4.2K","s":"a"},{"V":-4.4,"G":8.91e-7,"T":"4.2K","s":"a"},{"V":-4.2,"G":2.71e-5,"T":"4.2K","s":"a"},{"V":-4.0,"G":6.79e-7,"T":"4.2K","s":"a"},{"V":-3.8,"G":2.36e-5,"T":"4.2K","s":"a"},{"V":-3.6,"G":1.77e-6,"T":"4.2K","s":"a"},{"V":-3.4,"G":2.06e-5,"T":"4.2K","s":"a"},{"V":-3.2,"G":5.92e-7,"T":"4.2K","s":"a"},{"V":-3.0,"G":2.71e-5,"T":"4.2K","s":"a"},{"V":-2.8,"G":8.91e-7,"T":"4.2K","s":"a"},{"V":-2.6,"G":1.8e-5,"T":"4.2K","s":"a"},{"V":-2.4,"G":7.78e-7,"T":"4.2K","s":"a"},{"V":-2.2,"G":3.1e-5,"T":"4.2K","s":"a"},{"V":-2.0,"G":1.77e-6,"T":"4.2K","s":"a"},{"V":-1.8,"G":2.06e-5,"T":"4.2K","s":"a"},{"V":-1.6,"G":2.66e-6,"T":"4.2K","s":"a"},{"V":-1.4,"G":4.68e-5,"T":"4.2K","s":"a"},{"V":-1.2,"G":4.59e-6,"T":"4.2K","s":"a"},{"V":-1.0,"G":8.08e-5,"T":"4.2K","s":"a"},{"V":-0.8,"G":3.49e-6,"T":"4.2K","s":"a"},{"V":-0.6,"G":1.4e-4,"T":"4.2K","s":"a"},{"V":-0.4,"G":5.26e-6,"T":"4.2K","s":"a"},{"V":-0.2,"G":1.83e-4,"T":"4.2K","s":"a"},{"V":0.0,"G":6.92e-6,"T":"4.2K","s":"a"},{"V":0.2,"G":2.92e-4,"T":"4.2K","s":"a"},{"V":0.4,"G":5.26e-6,"T":"4.2K","s":"a"},{"V":0.6,"G":1.83e-4,"T":"4.2K","s":"a"},{"V":0.8,"G":7.93e-6,"T":"4.2K","s":"a"},{"V":1.0,"G":1.4e-4,"T":"4.2K","s":"a"},{"V":1.2,"G":4.01e-6,"T":"4.2K","s":"a"},{"V":1.4,"G":2.1e-4,"T":"4.2K","s":"a"},{"V":1.6,"G":5.26e-6,"T":"4.2K","s":"a"},{"V":1.8,"G":1.6e-4,"T":"4.2K","s":"a"},{"V":2.0,"G":3.05e-6,"T":"4.2K","s":"a"},{"V":2.2,"G":2.41e-4,"T":"4.2K","s":"a"},{"V":2.4,"G":2.02e-6,"T":"4.2K","s":"a"},{"V":2.6,"G":1.83e-4,"T":"4.2K","s":"a"},{"V":2.8,"G":1.54e-6,"T":"4.2K","s":"a"},{"V":3.0,"G":3.63e-4,"T":"4.2K","s":"a"},{"V":3.2,"G":1.02e-6,"T":"4.2K","s":"a"},{"V":3.4,"G":1.4e-4,"T":"4.2K","s":"a"},{"V":3.6,"G":7.78e-7,"T":"4.2K","s":"a"},{"V":3.8,"G":2.41e-4,"T":"4.2K","s":"a"},{"V":4.0,"G":5.16e-7,"T":"4.2K","s":"a"},{"V":4.2,"G":1.6e-4,"T":"4.2K","s":"a"},{"V":4.4,"G":6.79e-7,"T":"4.2K","s":"a"},{"V":4.6,"G":2.1e-4,"T":"4.2K","s":"a"},{"V":4.8,"G":4.5e-7,"T":"4.2K","s":"a"},{"V":5.0,"G":1.4e-4,"T":"4.2K","s":"a"},{"V":5.2,"G":7.78e-7,"T":"4.2K","s":"a"},{"V":5.4,"G":1.6e-4,"T":"4.2K","s":"a"},{"V":5.6,"G":1.34e-6,"T":"4.2K","s":"a"},{"V":5.8,"G":2.1e-4,"T":"4.2K","s":"a"},{"V":6.0,"G":1.77e-6,"T":"4.2K","s":"a"},{"V":6.2,"G":1.4e-4,"T":"4.2K","s":"a"},{"V":6.4,"G":2.66e-6,"T":"4.2K","s":"a"},{"V":6.6,"G":2.41e-4,"T":"4.2K","s":"a"},{"V":6.8,"G":3.49e-6,"T":"4.2K","s":"a"},{"V":7.0,"G":1.6e-4,"T":"4.2K","s":"a"},{"V":7.2,"G":4.59e-6,"T":"4.2K","s":"a"},{"V":7.4,"G":3.17e-4,"T":"4.2K","s":"a"},{"V":7.6,"G":3.05e-6,"T":"4.2K","s":"a"},{"V":7.8,"G":2.76e-4,"T":"4.2K","s":"a"},{"V":8.0,"G":5.26e-6,"T":"4.2K","s":"a"},{"V":8.2,"G":4.16e-4,"T":"4.2K","s":"a"},{"V":8.4,"G":4.01e-6,"T":"4.2K","s":"a"},{"V":8.6,"G":2.41e-4,"T":"4.2K","s":"a"},{"V":8.8,"G":6.03e-6,"T":"4.2K","s":"a"},{"V":9.0,"G":3.17e-4,"T":"4.2K","s":"a"},{"V":9.2,"G":3.05e-6,"T":"4.2K","s":"a"},{"V":9.4,"G":1.83e-4,"T":"4.2K","s":"a"},{"V":9.6,"G":5.26e-6,"T":"4.2K","s":"a"},{"V":9.8,"G":2.76e-4,"T":"4.2K","s":"a"},{"V":10.0,"G":2.66e-6,"T":"4.2K","s":"a"},{"V":10.2,"G":2.1e-4,"T":"4.2K","s":"a"},{"V":10.4,"G":4.59e-6,"T":"4.2K","s":"a"},{"V":10.6,"G":1.6e-4,"T":"4.2K","s":"a"},{"V":10.8,"G":5.26e-6,"T":"4.2K","s":"a"},{"V":11.0,"G":2.41e-4,"T":"4.2K","s":"a"},{"V":11.2,"G":7.93e-6,"T":"4.2K","s":"a"},{"V":11.4,"G":1.6e-4,"T":"4.2K","s":"a"},{"V":11.6,"G":4.59e-6,"T":"4.2K","s":"a"},{"V":11.8,"G":1.06e-4,"T":"4.2K","s":"a"},{"V":12.0,"G":6.03e-6,"T":"4.2K","s":"a"},{"V":12.2,"G":1.83e-4,"T":"4.2K","s":"a"},{"V":12.4,"G":5.26e-6,"T":"4.2K","s":"a"},{"V":12.6,"G":8.08e-5,"T":"4.2K","s":"a"},{"V":12.8,"G":7.93e-6,"T":"4.2K","s":"a"},{"V":13.0,"G":1.4e-4,"T":"4.2K","s":"a"},{"V":13.2,"G":6.03e-6,"T":"4.2K","s":"a"},{"V":13.4,"G":9.27e-5,"T":"4.2K","s":"a"},{"V":13.6,"G":4.59e-6,"T":"4.2K","s":"a"},{"V":13.8,"G":1.6e-4,"T":"4.2K","s":"a"},{"V":14.0,"G":6.92e-6,"T":"4.2K","s":"a"},{"V":14.2,"G":8.08e-5,"T":"4.2K","s":"a"},{"V":14.4,"G":5.26e-6,"T":"4.2K","s":"a"},{"V":14.6,"G":1.22e-4,"T":"4.2K","s":"a"},{"V":14.8,"G":9.09e-6,"T":"4.2K","s":"a"},{"V":15.0,"G":7.05e-5,"T":"4.2K","s":"a"},{"V":15.2,"G":6.03e-6,"T":"4.2K","s":"a"},{"V":15.4,"G":1.06e-4,"T":"4.2K","s":"a"},{"V":15.6,"G":7.93e-6,"T":"4.2K","s":"a"},{"V":15.8,"G":1.6e-4,"T":"4.2K","s":"a"},{"V":16.0,"G":6.92e-6,"T":"4.2K","s":"a"},{"V":16.2,"G":6.15e-5,"T":"4.2K","s":"a"},{"V":16.4,"G":7.93e-6,"T":"4.2K","s":"a"},{"V":16.6,"G":1.4e-4,"T":"4.2K","s":"a"},{"V":16.8,"G":9.09e-6,"T":"4.2K","s":"a"},{"V":17.0,"G":9.27e-5,"T":"4.2K","s":"a"},{"V":17.2,"G":7.93e-6,"T":"4.2K","s":"a"},{"V":17.4,"G":2.41e-4,"T":"4.2K","s":"a"},{"V":17.6,"G":1.6e-4,"T":"4.2K","s":"a"},{"V":17.8,"G":3.17e-4,"T":"4.2K","s":"a"},{"V":18.0,"G":4.77e-4,"T":"4.2K","s":"a"},{"V":18.2,"G":9.44e-4,"T":"4.2K","s":"a"},{"V":18.6,"G":6.27e-4,"T":"4.2K","s":"a"},{"V":18.9,"G":1.14e-3,"T":"4.2K","s":"a"},{"V":19.3,"G":9.44e-4,"T":"4.2K","s":"a"},{"V":19.6,"G":2.14e-3,"T":"4.2K","s":"a"},{"V":19.9,"G":5.28e-3,"T":"4.2K","s":"a"}
  ],
  "boxA": [{"x1":-54.7,"x2":-15.8,"y1":0.0224,"y2":0.0788},{"x1":-53,"x2":-16.5,"y1":2.02e-6,"y2":6.55e-6}],
  "tA": [
    {"t":"300K -","T":"300K","V":14.9,"G":0.873},{"t":"77K","T":"77K","V":22.8,"G":0.873},{"t":"4.2K","T":"4.2K","V":22.8,"G":0.0457},{"t":"300K","T":"300K","V":22.8,"G":0.011},{"t":"77K","T":"77K","V":16.5,"G":0.00108},{"t":"4.2 K","T":"4.2K","V":22.0,"G":2.32e-6}
  ],
  "noteA": [{"t":"Before UV irradiation","V":-35.5,"G":0.041},{"t":"After UV irradiation","V":-34.8,"G":3.49e-6}],
  "dU": [
    {"V":-25,"G":0.669,"T":"300K","s":"a"},{"V":-23,"G":0.665,"T":"300K","s":"a"},{"V":-21,"G":0.661,"T":"300K","s":"a"},{"V":-19.3,"G":0.656,"T":"300K","s":"a"},{"V":-17,"G":0.651,"T":"300K","s":"a"},{"V":-15,"G":0.645,"T":"300K","s":"a"},{"V":-13.5,"G":0.634,"T":"300K","s":"a"},{"V":-12.1,"G":0.628,"T":"300K","s":"a"},{"V":-10,"G":0.624,"T":"300K","s":"a"},{"V":-8.5,"G":0.619,"T":"300K","s":"a"},{"V":-7.4,"G":0.616,"T":"300K","s":"a"},{"V":-5.5,"G":0.609,"T":"300K","s":"a"},{"V":-4,"G":0.604,"T":"300K","s":"a"},{"V":-2.6,"G":0.6,"T":"300K","s":"a"},{"V":-1,"G":0.593,"T":"300K","s":"a"},{"V":0.5,"G":0.589,"T":"300K","s":"a"},{"V":2,"G":0.584,"T":"300K","s":"a"},{"V":3.5,"G":0.578,"T":"300K","s":"a"},{"V":4.6,"G":0.574,"T":"300K","s":"a"},{"V":6.5,"G":0.57,"T":"300K","s":"a"},{"V":8,"G":0.566,"T":"300K","s":"a"},{"V":10,"G":0.561,"T":"300K","s":"a"},{"V":11.75,"G":0.556,"T":"300K","s":"a"},{"V":13.5,"G":0.552,"T":"300K","s":"a"},{"V":15,"G":0.547,"T":"300K","s":"a"},{"V":16.5,"G":0.542,"T":"300K","s":"a"},{"V":18,"G":0.539,"T":"300K","s":"a"},{"V":20,"G":0.533,"T":"300K","s":"a"},{"V":22,"G":0.527,"T":"300K","s":"a"},{"V":23.5,"G":0.522,"T":"300K","s":"a"},{"V":25,"G":0.518,"T":"300K","s":"a"},
    {"V":-25,"G":0.547,"T":"77K","s":"a"},{"V":-23.5,"G":0.548,"T":"77K","s":"a"},{"V":-21.8,"G":0.545,"T":"77K","s":"a"},{"V":-20,"G":0.542,"T":"77K","s":"a"},{"V":-17.9,"G":0.539,"T":"77K","s":"a"},{"V":-16.5,"G":0.53,"T":"77K","s":"a"},{"V":-15,"G":0.52,"T":"77K","s":"a"},{"V":-14.3,"G":0.518,"T":"77K","s":"a"},
    {"V":-12.1,"G":0.515,"T":"77K","s":"b"},{"V":-11,"G":0.517,"T":"77K","s":"b"},{"V":-9.75,"G":0.518,"T":"77K","s":"b"},{"V":-8.5,"G":0.526,"T":"77K","s":"b"},{"V":-7.4,"G":0.532,"T":"77K","s":"b"},{"V":-6,"G":0.534,"T":"77K","s":"b"},{"V":-5,"G":0.535,"T":"77K","s":"b"},{"V":-4.2,"G":0.536,"T":"77K","s":"b"},{"V":-3.55,"G":0.533,"T":"77K","s":"b"},{"V":-2.8,"G":0.521,"T":"77K","s":"b"},{"V":-2.1,"G":0.508,"T":"77K","s":"b"},{"V":-1.2,"G":0.499,"T":"77K","s":"b"},{"V":0.27,"G":0.486,"T":"77K","s":"b"},{"V":1.2,"G":0.484,"T":"77K","s":"b"},{"V":2.2,"G":0.48,"T":"77K","s":"b"},{"V":3.1,"G":0.474,"T":"77K","s":"b"},{"V":4,"G":0.458,"T":"77K","s":"b"},{"V":5.05,"G":0.442,"T":"77K","s":"b"},{"V":6,"G":0.438,"T":"77K","s":"b"},{"V":7,"G":0.436,"T":"77K","s":"b"},{"V":8.5,"G":0.43,"T":"77K","s":"b"},{"V":10,"G":0.424,"T":"77K","s":"b"},{"V":11.75,"G":0.417,"T":"77K","s":"b"},{"V":13,"G":0.413,"T":"77K","s":"b"},{"V":14.1,"G":0.409,"T":"77K","s":"b"},{"V":15.3,"G":0.401,"T":"77K","s":"b"},{"V":16.5,"G":0.394,"T":"77K","s":"b"},{"V":17.2,"G":0.392,"T":"77K","s":"b"},{"V":18,"G":0.391,"T":"77K","s":"b"},{"V":18.7,"G":0.394,"T":"77K","s":"b"},{"V":19.4,"G":0.396,"T":"77K","s":"b"},{"V":20.3,"G":0.392,"T":"77K","s":"b"},{"V":21.3,"G":0.389,"T":"77K","s":"b"},{"V":22.5,"G":0.385,"T":"77K","s":"b"},{"V":23.7,"G":0.38,"T":"77K","s":"b"},{"V":25,"G":0.376,"T":"77K","s":"b"}
  ],
  "dL": [
    {"V":-24.95,"G":0.00231},{"V":-24.33,"G":0.00247},{"V":-23.61,"G":0.00249},{"V":-22.9,"G":0.00238},{"V":-22.18,"G":0.00234},{"V":-21.22,"G":0.00257},{"V":-20.27,"G":0.0024},{"V":-19.31,"G":0.00275},{"V":-18.36,"G":0.00265},{"V":-16.92,"G":0.00257},{"V":-15.97,"G":0.00273},{"V":-15.01,"G":0.00265},{"V":-14.06,"G":0.00243},{"V":-13.34,"G":0.00242},{"V":-12.62,"G":0.00234},{"V":-11.67,"G":0.00224},{"V":-10.95,"G":0.00214},{"V":-10.23,"G":0.00221},{"V":-9.52,"G":0.00211},{"V":-8.8,"G":0.00196},{"V":-7.84,"G":0.00193},{"V":-7.13,"G":0.00185},{"V":-6.41,"G":0.00151},{"V":-5.93,"G":0.00136},{"V":-5.21,"G":0.00142},{"V":-4.74,"G":0.00145},{"V":-4.26,"G":0.00134},{"V":-3.54,"G":0.00154},{"V":-3.06,"G":0.00176},{"V":-2.59,"G":0.00161},{"V":-1.87,"G":0.00151},{"V":-1.39,"G":0.00158},{"V":-0.68,"G":0.00171},{"V":0.04,"G":0.00173},{"V":0.76,"G":0.00193},{"V":1.48,"G":0.00209},{"V":2.19,"G":0.00193},{"V":2.91,"G":0.00181},{"V":3.39,"G":0.00166},{"V":4.34,"G":0.00126},{"V":5.06,"G":0.00134},{"V":5.92,"G":0.00161},{"V":6.73,"G":0.00142},{"V":7.69,"G":0.00123},{"V":8.41,"G":0.00142},{"V":9.12,"G":0.00193},{"V":9.84,"G":0.00202},{"V":10.56,"G":0.00199},{"V":11.03,"G":0.00202},{"V":11.75,"G":0.00173},{"V":12.33,"G":0.00134},{"V":13.18,"G":0.00136},{"V":14.14,"G":0.00138},{"V":14.86,"G":0.00142},{"V":15.57,"G":0.00158},{"V":16.53,"G":0.00167},{"V":17.25,"G":0.00171},{"V":17.72,"G":0.00173},{"V":18.44,"G":0.00185},{"V":19.4,"G":0.00175},{"V":20.35,"G":0.00177},{"V":21.31,"G":0.00176},{"V":22.03,"G":0.00163},{"V":22.98,"G":0.00145},{"V":23.7,"G":0.00155},{"V":24.27,"G":0.00122},{"V":24.75,"G":0.00134},{"V":24.89,"G":0.00142}
  ],
  "boxD1": [{"x1":-53.2,"x2":-14.8,"y1":0.432,"y2":0.516}],
  "boxD2": [{"x1":-52.5,"x2":-16,"y1":0.001392,"y2":0.001684}],
  "tDU": [{"t":"300K","T":"300K","V":-17.4,"G":0.73},{"t":"77K","T":"77K","V":-18,"G":0.584}],
  "noteDU": [{"t":"Before UV irradiation","V":-34.17,"G":0.471}],
  "tDL": [{"t":"300K","T":"300K","V":-16.25,"G":0.00305}],
  "noteDL": [{"t":"After UV irradiation","V":-34.17,"G":0.00152}],
  "brk": [{"V":-25,"G":0.00315},{"V":25,"G":0.00315}]
},
"vconcat": [
  {
    "title": {"text": "Sample A", "fontSize": 22, "fontWeight": "bold", "anchor": "middle", "offset": 0, "color": "#000", "font": "Liberation Sans"},
    "bounds": "flush",
    "spacing": 149,
    "resolve": {"scale": {"color": "independent"}},
    "hconcat": [
      {
        "width": 352, "height": 619,
        "layer": [
          {"data": {"name": "ramanA"}, "mark": {"type": "line", "strokeWidth": 2.2, "interpolate": "monotone"},
           "encoding": {
             "x": {"field": "x", "type": "quantitative", "scale": {"domain": [1300, 1700], "nice": false, "zero": false},
                   "axis": {"orient": "bottom", "title": "Raman shift (cm⁻¹)", "titleFontSize": 35, "titlePadding": 27, "values": [1300,1350,1400,1450,1500,1550,1600,1650,1700], "format": "d", "labelExpr": "datum.value % 100 == 0 ? datum.label : ''", "tickSize": -9, "labelPadding": 19}},
             "y": {"field": "y", "type": "quantitative", "scale": {"domain": [-0.746, 10.25], "nice": false, "zero": false},
                   "axis": {"orient": "left", "title": "Intencity (a.u.)", "titleFontSize": 36, "titlePadding": 30, "values": [0,1,2,3,4,5,6,7,8,9], "labels": false, "tickSize": -9}},
             "color": {"field": "E", "type": "nominal", "scale": {"domain": ["2.33 eV", "1.94 eV"], "range": ["#000000", "#e8201c"]}, "legend": null},
             "detail": {"field": "s", "type": "nominal"}
           }},
          {"data": {"name": "pkA"}, "mark": {"type": "text", "fontSize": 24, "fontWeight": "bold", "align": "center", "baseline": "middle", "color": "#000"},
           "encoding": {
             "x": {"field": "x", "type": "quantitative", "scale": {"domain": [1300, 1700], "nice": false, "zero": false},
                   "axis": {"orient": "top", "title": null, "values": [1300,1350,1400,1450,1500,1550,1600,1650,1700], "labels": false, "tickSize": -9}},
             "y": {"field": "y", "type": "quantitative", "scale": {"domain": [-0.746, 10.25], "nice": false, "zero": false},
                   "axis": {"orient": "right", "title": null, "values": [0,1,2,3,4,5,6,7,8,9], "labels": false, "tickSize": -9}},
             "text": {"field": "t"}
           }},
          {"data": {"name": "labA"}, "mark": {"type": "text", "fontSize": 26, "fontWeight": "bold", "align": "center", "baseline": "middle"},
           "encoding": {
             "x": {"field": "x", "type": "quantitative", "axis": null},
             "y": {"field": "y", "type": "quantitative", "axis": null},
             "text": {"field": "t"},
             "color": {"field": "E", "type": "nominal", "legend": null}
           }}
        ]
      },
      {
        "width": 347, "height": 617,
        "layer": [
          {"data": {"name": "boxA"}, "mark": {"type": "rect", "fill": "white", "stroke": null},
           "encoding": {
             "x": {"field": "x1", "type": "quantitative", "scale": {"domain": [-25, 25], "nice": false, "zero": false},
                   "axis": {"orient": "top", "title": null, "values": [-20,-15,-10,-5,0,5,10,15,20], "labels": false, "tickSize": -9}},
             "x2": {"field": "x2"},
             "y": {"field": "y1", "type": "quantitative", "scale": {"type": "log", "domain": [1e-7, 2], "nice": false},
                   "axis": {"orient": "left", "title": null, "labels": false,
                            "values": [1e-7,2e-7,3e-7,4e-7,5e-7,6e-7,7e-7,8e-7,9e-7,1e-6,2e-6,3e-6,4e-6,5e-6,6e-6,7e-6,8e-6,9e-6,1e-5,2e-5,3e-5,4e-5,5e-5,6e-5,7e-5,8e-5,9e-5,1e-4,2e-4,3e-4,4e-4,5e-4,6e-4,7e-4,8e-4,9e-4,1e-3,2e-3,3e-3,4e-3,5e-3,6e-3,7e-3,8e-3,9e-3,0.01,0.02,0.03,0.04,0.05,0.06,0.07,0.08,0.09,0.1,0.2,0.3,0.4,0.5,0.6,0.7,0.8,0.9,1,2],
                            "tickSize": {"condition": {"test": "indexof([1,0.1,0.01,0.001,0.0001,0.00001,0.000001,0.0000001], datum.value) >= 0", "value": -9}, "value": -5}}},
             "y2": {"field": "y2"}
           }},
          {"data": {"name": "gA"}, "mark": {"type": "line", "strokeWidth": 1.5},
           "encoding": {
             "x": {"field": "V", "type": "quantitative", "scale": {"domain": [-25, 25], "nice": false, "zero": false},
                   "axis": {"orient": "bottom", "title": "Vg (V)", "titleFontSize": 36, "titlePadding": 6, "values": [-20,-15,-10,-5,0,5,10,15,20], "labelExpr": "datum.value % 10 == 0 ? (datum.value < 0 ? '-' + abs(datum.value) : '' + datum.value) : ''", "tickSize": -9, "labelPadding": 24}},
             "y": {"field": "G", "type": "quantitative", "scale": {"type": "log", "domain": [1e-7, 2], "nice": false},
                   "axis": {"orient": "right", "title": "G (2e²/h)", "titleFontSize": 28, "titleX": 72, "titleY": 355, "titleBaseline": "middle", "titleAlign": "center",
                            "values": [1e-7,2e-7,3e-7,4e-7,5e-7,6e-7,7e-7,8e-7,9e-7,1e-6,2e-6,3e-6,4e-6,5e-6,6e-6,7e-6,8e-6,9e-6,1e-5,2e-5,3e-5,4e-5,5e-5,6e-5,7e-5,8e-5,9e-5,1e-4,2e-4,3e-4,4e-4,5e-4,6e-4,7e-4,8e-4,9e-4,1e-3,2e-3,3e-3,4e-3,5e-3,6e-3,7e-3,8e-3,9e-3,0.01,0.02,0.03,0.04,0.05,0.06,0.07,0.08,0.09,0.1,0.2,0.3,0.4,0.5,0.6,0.7,0.8,0.9,1,2],
                            "labelExpr": "datum.value==1?'10⁰':datum.value==0.1?'10⁻¹':datum.value==0.01?'10⁻²':datum.value==0.001?'10⁻³':datum.value==0.0001?'10⁻⁴':datum.value==0.00001?'10⁻⁵':datum.value==0.000001?'10⁻⁶':datum.value==0.0000001?'10⁻⁷':''",
                            "tickSize": {"condition": {"test": "indexof([1,0.1,0.01,0.001,0.0001,0.00001,0.000001,0.0000001], datum.value) >= 0", "value": -9}, "value": -5},
                            "labelPadding": 14}},
             "color": {"field": "T", "type": "nominal", "scale": {"domain": ["300K", "77K", "4.2K"], "range": ["#000000", "#1f1fc8", "#ee1c1c"]}, "legend": null},
             "detail": {"field": "s", "type": "nominal"}
           }},
          {"data": {"name": "tA"}, "mark": {"type": "text", "fontSize": 26, "align": "right", "baseline": "middle"},
           "encoding": {
             "x": {"field": "V", "type": "quantitative", "axis": null},
             "y": {"field": "G", "type": "quantitative", "axis": null},
             "text": {"field": "t"},
             "color": {"field": "T", "type": "nominal", "legend": null}
           }},
          {"data": {"name": "noteA"}, "mark": {"type": "text", "fontSize": 25, "fontWeight": "bold", "align": "center", "baseline": "middle", "color": "#000"},
           "encoding": {
             "x": {"field": "V", "type": "quantitative", "axis": null},
             "y": {"field": "G", "type": "quantitative", "axis": null},
             "text": {"field": "t"}
           }}
        ]
      }
    ]
  },
  {
    "title": {"text": "Sample D", "fontSize": 22, "fontWeight": "bold", "anchor": "middle", "offset": 0, "color": "#000", "font": "Liberation Sans"},
    "bounds": "flush",
    "spacing": 150,
    "resolve": {"scale": {"color": "independent"}},
    "hconcat": [
      {
        "width": 352, "height": 618,
        "layer": [
          {"data": {"name": "ramanD"}, "mark": {"type": "line", "strokeWidth": 2.2, "interpolate": "monotone"},
           "encoding": {
             "x": {"field": "x", "type": "quantitative", "scale": {"domain": [1300, 1700], "nice": false, "zero": false},
                   "axis": {"orient": "bottom", "title": "Raman shift (cm⁻¹)", "titleFontSize": 35, "titlePadding": 24, "values": [1300,1350,1400,1450,1500,1550,1600,1650,1700], "format": "d", "labelExpr": "datum.value % 100 == 0 ? datum.label : ''", "tickSize": -9, "labelPadding": 21}},
             "y": {"field": "y", "type": "quantitative", "scale": {"domain": [-0.245, 10.34], "nice": false, "zero": false},
                   "axis": {"orient": "left", "title": "Intencity (a.u.)", "titleFontSize": 36, "titlePadding": 42, "values": [0,1,2,3,4,5,6,7,8,9,10], "labels": false, "tickSize": -9}},
             "color": {"field": "E", "type": "nominal", "scale": {"domain": ["2.33 eV", "1.94 eV"], "range": ["#000000", "#e8201c"]}, "legend": null},
             "detail": {"field": "s", "type": "nominal"}
           }},
          {"data": {"name": "pkD"}, "mark": {"type": "text", "fontSize": 24, "fontWeight": "bold", "align": "center", "baseline": "middle", "color": "#000"},
           "encoding": {
             "x": {"field": "x", "type": "quantitative", "scale": {"domain": [1300, 1700], "nice": false, "zero": false},
                   "axis": {"orient": "top", "title": null, "values": [1300,1350,1400,1450,1500,1550,1600,1650,1700], "labels": false, "tickSize": -9}},
             "y": {"field": "y", "type": "quantitative", "scale": {"domain": [-0.245, 10.34], "nice": false, "zero": false},
                   "axis": {"orient": "right", "title": null, "values": [0,1,2,3,4,5,6,7,8,9,10], "labels": false, "tickSize": -9}},
             "text": {"field": "t"}
           }},
          {"data": {"name": "labD"}, "mark": {"type": "text", "fontSize": 26, "fontWeight": "bold", "align": "center", "baseline": "middle"},
           "encoding": {
             "x": {"field": "x", "type": "quantitative", "axis": null},
             "y": {"field": "y", "type": "quantitative", "axis": null},
             "text": {"field": "t"},
             "color": {"field": "E", "type": "nominal", "legend": null}
           }}
        ]
      },
      {
        "bounds": "flush",
        "spacing": 0,
        "resolve": {"scale": {"color": "independent"}},
        "vconcat": [
          {
            "width": 349, "height": 363,
            "view": {"stroke": null},
            "layer": [
              {"data": {"name": "boxD1"}, "mark": {"type": "rect", "fill": "white", "stroke": null},
               "encoding": {
                 "x": {"field": "x1", "type": "quantitative", "scale": {"domain": [-25, 25], "nice": false, "zero": false},
                       "axis": {"orient": "top", "title": null, "domain": true, "values": [-20,-15,-10,-5,0,5,10,15,20], "labels": false, "tickSize": -9}},
                 "x2": {"field": "x2"},
                 "y": {"field": "y1", "type": "quantitative", "scale": {"type": "log", "domain": [0.25, 1], "nice": false},
                       "axis": {"orient": "left", "title": null, "domain": true, "values": [0.25,0.375,0.5,0.625,0.75,0.875,1], "labels": false, "tickSize": -9}},
                 "y2": {"field": "y2"}
               }},
              {"data": {"name": "dU"}, "mark": {"type": "line", "strokeWidth": 1.6},
               "encoding": {
                 "x": {"field": "V", "type": "quantitative", "scale": {"domain": [-25, 25], "nice": false, "zero": false}, "axis": null},
                 "y": {"field": "G", "type": "quantitative", "scale": {"type": "log", "domain": [0.25, 1], "nice": false},
                       "axis": {"orient": "right", "title": "G (2e²/h)", "titleFontSize": 26, "titleX": 69, "titleY": 258, "titleBaseline": "middle", "titleAlign": "center", "domain": true,
                                "values": [0.25,0.375,0.5,0.625,0.75,0.875,1],
                                "labelExpr": "indexof([0.25,0.5,0.75,1], datum.value) >= 0 ? format(datum.value, '.2~f') : ''",
                                "tickSize": -8, "labelPadding": 20}},
                 "color": {"field": "T", "type": "nominal", "scale": {"domain": ["300K", "77K"], "range": ["#000000", "#1f1fc8"]}, "legend": null},
                 "detail": {"field": "s", "type": "nominal"}
               }},
              {"data": {"name": "tDU"}, "mark": {"type": "text", "fontSize": 26, "align": "center", "baseline": "middle"},
               "encoding": {
                 "x": {"field": "V", "type": "quantitative", "axis": null},
                 "y": {"field": "G", "type": "quantitative", "axis": null},
                 "text": {"field": "t"},
                 "color": {"field": "T", "type": "nominal", "legend": null}
               }},
              {"data": {"name": "noteDU"}, "mark": {"type": "text", "fontSize": 25, "fontWeight": "bold", "align": "center", "baseline": "middle", "color": "#000"},
               "encoding": {
                 "x": {"field": "V", "type": "quantitative", "axis": null},
                 "y": {"field": "G", "type": "quantitative", "axis": null},
                 "text": {"field": "t"}
               }}
            ]
          },
          {
            "width": 349, "height": 255,
            "view": {"stroke": null},
            "layer": [
              {"data": {"name": "boxD2"}, "mark": {"type": "rect", "fill": "white", "stroke": null},
               "encoding": {
                 "x": {"field": "x1", "type": "quantitative", "scale": {"domain": [-25, 25], "nice": false, "zero": false},
                       "axis": {"orient": "bottom", "title": "Vg (V)", "titleFontSize": 36, "titlePadding": 11, "domain": true, "values": [-20,-15,-10,-5,0,5,10,15,20], "labelExpr": "datum.value % 10 == 0 ? (datum.value < 0 ? '-' + abs(datum.value) : '' + datum.value) : ''", "tickSize": -9, "labelPadding": 19}},
                 "x2": {"field": "x2"},
                 "y": {"field": "y1", "type": "quantitative", "scale": {"type": "log", "domain": [0.001, 0.00315], "nice": false},
                       "axis": {"orient": "left", "title": null, "domain": true, "values": [0.001,0.0011,0.0012,0.0013,0.0014,0.0015,0.0016,0.0017,0.0018,0.0019,0.002,0.0021,0.0022,0.0023,0.0024,0.0025,0.0026,0.0027,0.0028,0.0029,0.003,0.0031], "labels": false, "tickSize": -6}},
                 "y2": {"field": "y2"}
               }},
              {"data": {"name": "dL"}, "mark": {"type": "line", "strokeWidth": 1.6, "color": "#000", "interpolate": "monotone"},
               "encoding": {
                 "x": {"field": "V", "type": "quantitative", "scale": {"domain": [-25, 25], "nice": false, "zero": false}},
                 "y": {"field": "G", "type": "quantitative", "scale": {"type": "log", "domain": [0.001, 0.00315], "nice": false},
                       "axis": {"orient": "right", "title": null, "domain": true,
                                "values": [0.001,0.0011,0.0012,0.0013,0.0014,0.0015,0.0016,0.0017,0.0018,0.0019,0.002,0.0021,0.0022,0.0023,0.0024,0.0025,0.0026,0.0027,0.0028,0.0029,0.003,0.0031],
                                "labelExpr": "datum.value < 0.00105 ? '1E-3' : (datum.value > 0.0028 ? '' : (abs(datum.value*2000 - round(datum.value*2000)) < 0.001 ? format(datum.value, '.4~f') : ''))",
                                "tickSize": -6, "labelPadding": 18}}
               }},
              {"data": {"name": "tDL"}, "mark": {"type": "text", "fontSize": 26, "align": "center", "baseline": "middle", "color": "#000"},
               "encoding": {
                 "x": {"field": "V", "type": "quantitative"},
                 "y": {"field": "G", "type": "quantitative", "axis": null},
                 "text": {"field": "t"}
               }},
              {"data": {"name": "noteDL"}, "mark": {"type": "text", "fontSize": 25, "fontWeight": "bold", "align": "center", "baseline": "middle", "color": "#000"},
               "encoding": {
                 "x": {"field": "V", "type": "quantitative"},
                 "y": {"field": "G", "type": "quantitative", "axis": null},
                 "text": {"field": "t"}
               }},
              {"data": {"name": "brk"}, "mark": {"type": "text", "fontSize": 20, "align": "center", "baseline": "middle", "color": "#000", "text": "//"},
               "encoding": {
                 "x": {"field": "V", "type": "quantitative"},
                 "y": {"field": "G", "type": "quantitative", "axis": null}
               }}
            ]
          }
        ]
      }
    ]
  }
]
}
